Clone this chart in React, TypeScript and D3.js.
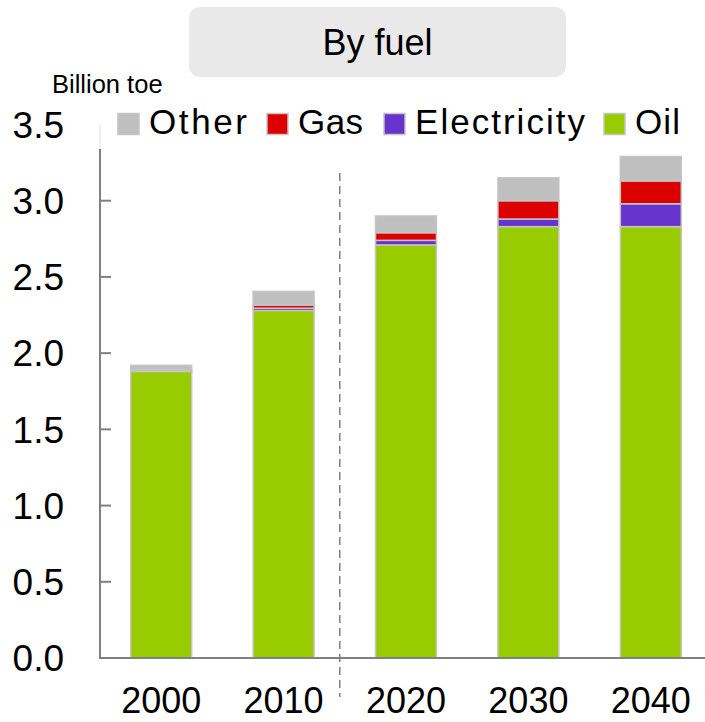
import React from "react";
import * as d3 from "d3";

const years = ["2000", "2010", "2020", "2030", "2040"];
const oil = [1.88, 2.28, 2.71, 2.83, 2.83];
const electricity = [0.01, 0.015, 0.03, 0.05, 0.15];
const gas = [0.0, 0.02, 0.05, 0.12, 0.15];
const other = [0.03, 0.09, 0.11, 0.15, 0.16];
const seriesKeys = ["Oil", "Electricity", "Gas", "Other"];
const legendOrder = ["Other", "Gas", "Electricity", "Oil"];
const yTicks = [0, 0.5, 1.0, 1.5, 2.0, 2.5, 3.0, 3.5];
const title = "By fuel";
const unitLabel = "Billion toe";

const colors: Record<string, string> = {
  Oil: "#99cc00",
  Electricity: "#6633cc",
  Gas: "#dd0000",
  Other: "#bfbfbf",
};

const W = 705;
const H = 722;
const FONT = "'Liberation Sans', Arial, sans-serif";

export default function App() {
  const rows = years.map((y, i) => ({
    year: y,
    Oil: oil[i],
    Electricity: electricity[i],
    Gas: gas[i],
    Other: other[i],
  }));
  const stack = d3.stack<any>().keys(seriesKeys)(rows);

  const x = d3
    .scaleBand<string>()
    .domain(years)
    .range([100, 712])
    .paddingInner(0.49)
    .paddingOuter(0.245);
  const y = d3.scaleLinear().domain([0, 3.5]).range([658, 124.5]);

  // legend layout (pixel positions and text widths)
  const legendX = [118, 267, 384, 604];
  const legendW = [98, 65, 170, 45];
  const sq = 21;

  const dashX = (x("2010")! + x.bandwidth() + x("2020")!) / 2 - 5;

  return (
    <svg
      width={W}
      height={H}
      style={{ position: "absolute", left: 0, top: 0, background: "#fff" }}
      fontFamily={FONT}
    >
      {/* title box */}
      <rect x={189} y={7} width={377} height={70} rx={11} fill="#e9e9e9" />
      <text x={377.5} y={55} textAnchor="middle" fontSize={36} fill="#000">
        {title}
      </text>
      <text x={52} y={93} fontSize={25.5} fill="#000">
        {unitLabel}
      </text>

      {/* y axis */}
      <line x1={100} x2={100} y1={y(3.5)} y2={149} stroke="#e0e0e0" strokeWidth={1} />
      <line x1={100} x2={100} y1={149} y2={y(0)} stroke="#808080" strokeWidth={2} />
      {yTicks.map((t) => (
        <g key={t}>
          {t < 3.5 && (
            <line x1={100} x2={111} y1={y(t)} y2={y(t)} stroke="#808080" strokeWidth={2} />
          )}
          <text
            x={64}
            y={y(t)}
            dy="0.36em"
            textAnchor="end"
            fontSize={37}
            fill="#000"
          >
            {t.toFixed(1)}
          </text>
        </g>
      ))}

      {/* bars */}
      {stack.map((s) => (
        <g key={s.key}>
          {s.map((d, i) => {
            const h = y(d[0]) - y(d[1]);
            if (h <= 0) return null;
            return (
              <rect
                key={i}
                x={x(years[i])! + 0.75}
                y={y(d[1])}
                width={x.bandwidth() - 1.5}
                height={h}
                fill={colors[s.key]}
                stroke="#c4c4c4"
                strokeWidth={1.5}
              />
            );
          })}
        </g>
      ))}

      {/* baseline */}
      <line x1={99} x2={W} y1={y(0)} y2={y(0)} stroke="#808080" strokeWidth={2} />

      {/* dashed separator */}
      <line
        x1={dashX}
        x2={dashX}
        y1={173}
        y2={697}
        stroke="#808080"
        strokeWidth={1.5}
        strokeDasharray="8,5"
      />

      {/* x labels */}
      {years.map((yr) => (
        <text
          key={yr}
          x={x(yr)! + x.bandwidth() / 2}
          y={713}
          textAnchor="middle"
          fontSize={36}
          fill="#000"
        >
          {yr}
        </text>
      ))}

      {/* legend */}
      {legendOrder.map((k, i) => (
        <g key={k}>
          <rect
            x={legendX[i]}
            y={113.5}
            width={sq}
            height={sq}
            fill={colors[k]}
            stroke="#c4c4c4"
            strokeWidth={1.5}
          />
          <text
            x={legendX[i] + sq + 10}
            y={134}
            fontSize={35}
            fill="#000"
            textLength={legendW[i]}
            lengthAdjust="spacing"
          >
            {k}
          </text>
        </g>
      ))}
    </svg>
  );
}
